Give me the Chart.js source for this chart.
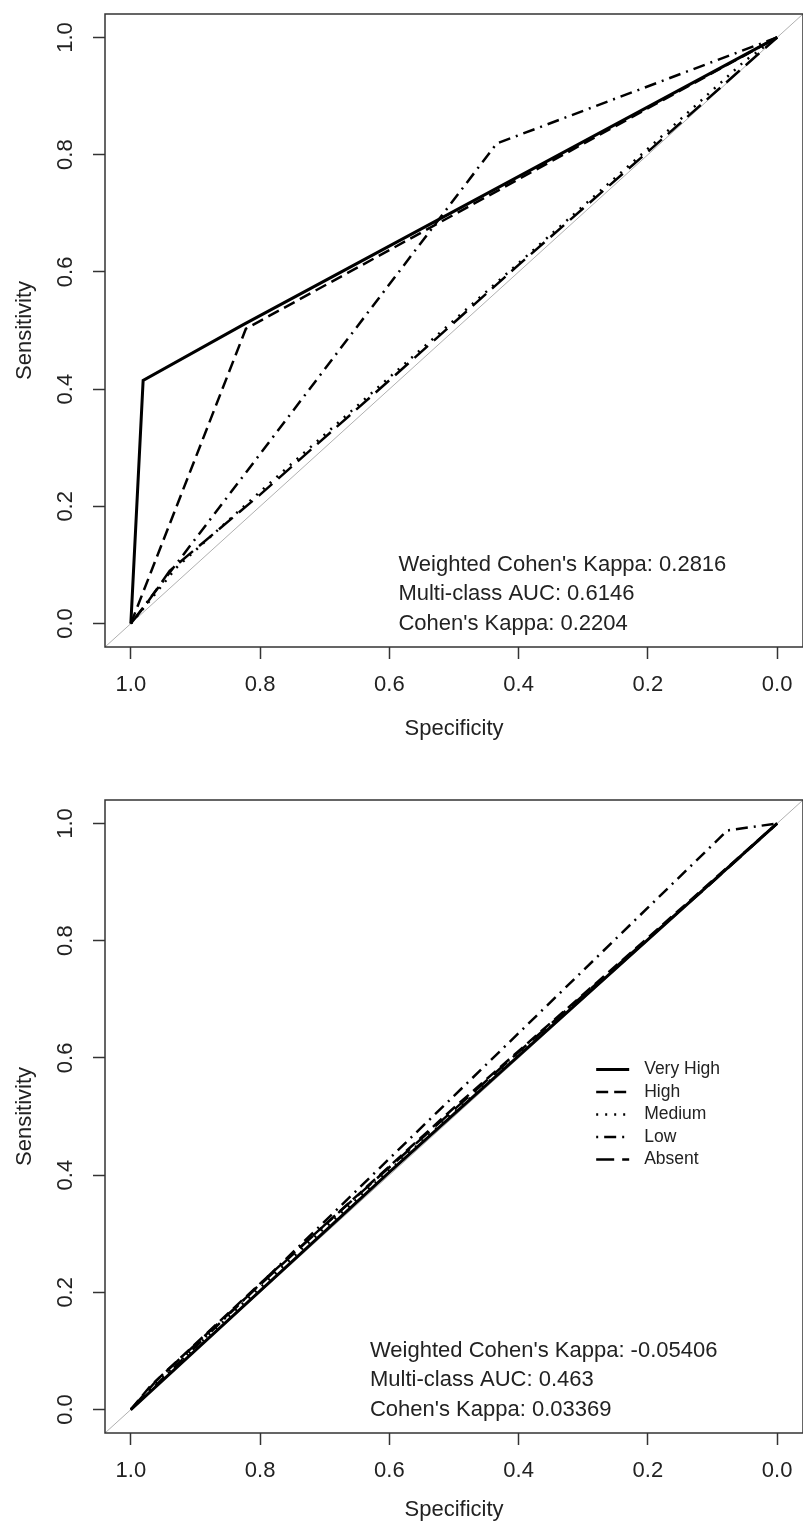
<!DOCTYPE html>
<html>
<head>
<meta charset="utf-8">
<script src="https://cdn.jsdelivr.net/npm/chart.js@4.4.1/dist/chart.umd.min.js"></script>
<style>
  html, body { margin: 0; padding: 0; background: #fff; }
  #wrap { position: relative; width: 803px; height: 1522px; overflow: hidden; }
  .panel { position: absolute; left: 0; width: 803px; }
  #rocA { top: 0; height: 786px; }
  #rocB { top: 786px; height: 736px; }
</style>
</head>
<body>
<div id="wrap">
  <div class="panel" id="rocA"><canvas id="chartA"></canvas></div>
  <div class="panel" id="rocB"><canvas id="chartB"></canvas></div>
</div>
<script>
// ---- data (specificity on x, sensitivity on y) ----
const classes = ['Very High', 'High', 'Medium', 'Low', 'Absent'];
const axisTicks = [0, 0.2, 0.4, 0.6, 0.8, 1.0];

// top panel
const aVeryHighSpec = [1, 0.981, 0.826, 0];
const aVeryHighSens = [0, 0.415, 0.51, 1];
const aHighSpec = [1, 0.822, 0];
const aHighSens = [0, 0.503, 1];
const aMediumSpec = [1, 0.97, 0.93, 0.8, 0.6, 0.4, 0.2, 0.05, 0];
const aMediumSens = [0, 0.04, 0.095, 0.225, 0.42, 0.615, 0.81, 0.96, 1];
const aLowSpec = [1, 0.434, 0];
const aLowSens = [0, 0.819, 1];
const aAbsentSpec = [1, 0.975, 0.94, 0.8, 0.6, 0.4, 0.2, 0];
const aAbsentSens = [0, 0.035, 0.09, 0.22, 0.415, 0.612, 0.805, 1];
const statsA = ["Weighted Cohen's Kappa: 0.2816", 'Multi-class AUC: 0.6146', "Cohen's Kappa: 0.2204"];

// bottom panel
const bVeryHighSpec = [1, 0.6, 0];
const bVeryHighSens = [0, 0.405, 1];
const bHighSpec = [1, 0.97, 0.8, 0.5, 0.2, 0];
const bHighSens = [0, 0.04, 0.215, 0.515, 0.805, 1];
const bMediumSpec = [1, 0.98, 0.7, 0.4, 0];
const bMediumSens = [0, 0.025, 0.31, 0.605, 1];
const bLowSpec = [1, 0.077, 0];
const bLowSens = [0, 0.988, 1];
const bAbsentSpec = [1, 0.96, 0.7, 0.4, 0.1, 0];
const bAbsentSens = [0, 0.05, 0.315, 0.61, 0.9, 1];
const statsB = ["Weighted Cohen's Kappa: -0.05406", 'Multi-class AUC: 0.463', "Cohen's Kappa: 0.03369"];

// chance line (abline)
const chanceSpec = [1.04, -0.04];
const chanceSens = [-0.04, 1.04];

// ---- styles ----
const FONT = '"Liberation Sans", Arial, sans-serif';
const INK = '#222';
const lineStyles = [
  { dash: [], width: 3 },
  { dash: [12, 6], width: 2.5 },
  { dash: [2, 7], width: 2.5 },
  { dash: [2, 6, 12, 6], width: 2.5 },
  { dash: [18, 8], width: 2.5 }
];

function toPoints(xs, ys) {
  return xs.map((x, i) => ({ x: x, y: ys[i] }));
}

function buildDatasets(series) {
  const sets = series.map((s, i) => ({
    label: classes[i],
    data: toPoints(s[0], s[1]),
    borderColor: '#000',
    borderWidth: lineStyles[i].width,
    borderDash: lineStyles[i].dash,
    pointRadius: 0,
    showLine: true,
    tension: 0
  }));
  sets.push({
    label: 'chance',
    data: toPoints(chanceSpec, chanceSens),
    borderColor: '#b0b0b0',
    borderWidth: 1,
    pointRadius: 0,
    showLine: true
  });
  return sets;
}

const framePlugin = {
  id: 'frame',
  afterDraw(chart) {
    const { ctx, chartArea: a } = chart;
    ctx.save();
    ctx.strokeStyle = '#333';
    ctx.lineWidth = 1.5;
    ctx.strokeRect(a.left, a.top, a.right - a.left, a.bottom - a.top);
    ctx.restore();
  }
};

const notesPlugin = {
  id: 'notes',
  afterDraw(chart, args, opts) {
    if (!opts.lines) return;
    const { ctx, scales } = chart;
    ctx.save();
    ctx.font = '22px ' + FONT;
    ctx.fillStyle = INK;
    ctx.textAlign = 'left';
    ctx.textBaseline = 'middle';
    const px = scales.x.getPixelForValue(opts.x);
    opts.lines.forEach((t, i) => {
      ctx.fillText(t, px, scales.y.getPixelForValue(opts.ys[i]));
    });
    ctx.restore();
  }
};

const keyPlugin = {
  id: 'key',
  afterDraw(chart, args, opts) {
    if (!opts.show) return;
    const { ctx, scales } = chart;
    const x0 = scales.x.getPixelForValue(opts.x);
    const y0 = scales.y.getPixelForValue(opts.y);
    ctx.save();
    ctx.font = '17.5px ' + FONT;
    ctx.fillStyle = INK;
    ctx.textBaseline = 'middle';
    classes.forEach((name, i) => {
      const y = y0 + i * 22.5;
      ctx.strokeStyle = '#000';
      ctx.lineWidth = lineStyles[i].width;
      ctx.setLineDash(lineStyles[i].dash);
      ctx.beginPath();
      ctx.moveTo(x0, y);
      ctx.lineTo(x0 + 33, y);
      ctx.stroke();
      ctx.setLineDash([]);
      ctx.fillText(name, x0 + 48, y);
    });
    ctx.restore();
  }
};

function axisCommon(title) {
  return {
    type: 'linear',
    min: -0.04,
    max: 1.04,
    afterBuildTicks: axis => { axis.ticks = axisTicks.map(v => ({ value: v })); },
    grid: { drawOnChartArea: false, drawTicks: true, tickLength: 12, tickWidth: 1.5, tickColor: '#333' },
    border: { display: false },
    title: { display: true, text: title, color: INK, font: { family: FONT, size: 22, lineHeight: 1 } }
  };
}

function makeChart(id, series, notes, key, xBand, bottomPad) {
  const xAxis = axisCommon('Specificity');
  xAxis.reverse = true;
  xAxis.ticks = { color: INK, font: { family: FONT, size: 22 }, padding: 13, maxRotation: 0, callback: v => v.toFixed(1) };
  xAxis.title.padding = { top: 0, bottom: 1 };
  xAxis.afterFit = s => { s.height = xBand; s.paddingLeft = 0; s.paddingRight = 0; };

  const yAxis = axisCommon('Sensitivity');
  yAxis.ticks = { color: INK, font: { family: FONT, size: 22 }, padding: 12, minRotation: 90, maxRotation: 90, crossAlign: 'center', callback: v => v.toFixed(1) };
  yAxis.title.padding = { top: 14, bottom: 0 };
  yAxis.afterFit = s => { s.width = 105; s.paddingTop = 0; s.paddingBottom = 0; };

  return new Chart(document.getElementById(id), {
    type: 'scatter',
    data: { datasets: buildDatasets(series) },
    options: {
      responsive: true,
      maintainAspectRatio: false,
      animation: false,
      layout: { padding: { top: 14, left: 0, right: 0, bottom: bottomPad } },
      scales: { x: xAxis, y: yAxis },
      plugins: {
        legend: { display: false },
        tooltip: { enabled: false },
        notes: notes,
        key: key
      }
    },
    plugins: [framePlugin, notesPlugin, keyPlugin]
  });
}

makeChart('chartA', [
  [aVeryHighSpec, aVeryHighSens],
  [aHighSpec, aHighSens],
  [aMediumSpec, aMediumSens],
  [aLowSpec, aLowSens],
  [aAbsentSpec, aAbsentSens]
], { lines: statsA, x: 0.586, ys: [0.1, 0.05, 0.0] }, { show: false }, 94, 45);

makeChart('chartB', [
  [bVeryHighSpec, bVeryHighSens],
  [bHighSpec, bHighSens],
  [bMediumSpec, bMediumSens],
  [bLowSpec, bLowSens],
  [bAbsentSpec, bAbsentSens]
], { lines: statsB, x: 0.63, ys: [0.1, 0.05, 0.0] }, { show: true, x: 0.28, y: 0.58 }, 89, 0);
</script>
</body>
</html>
